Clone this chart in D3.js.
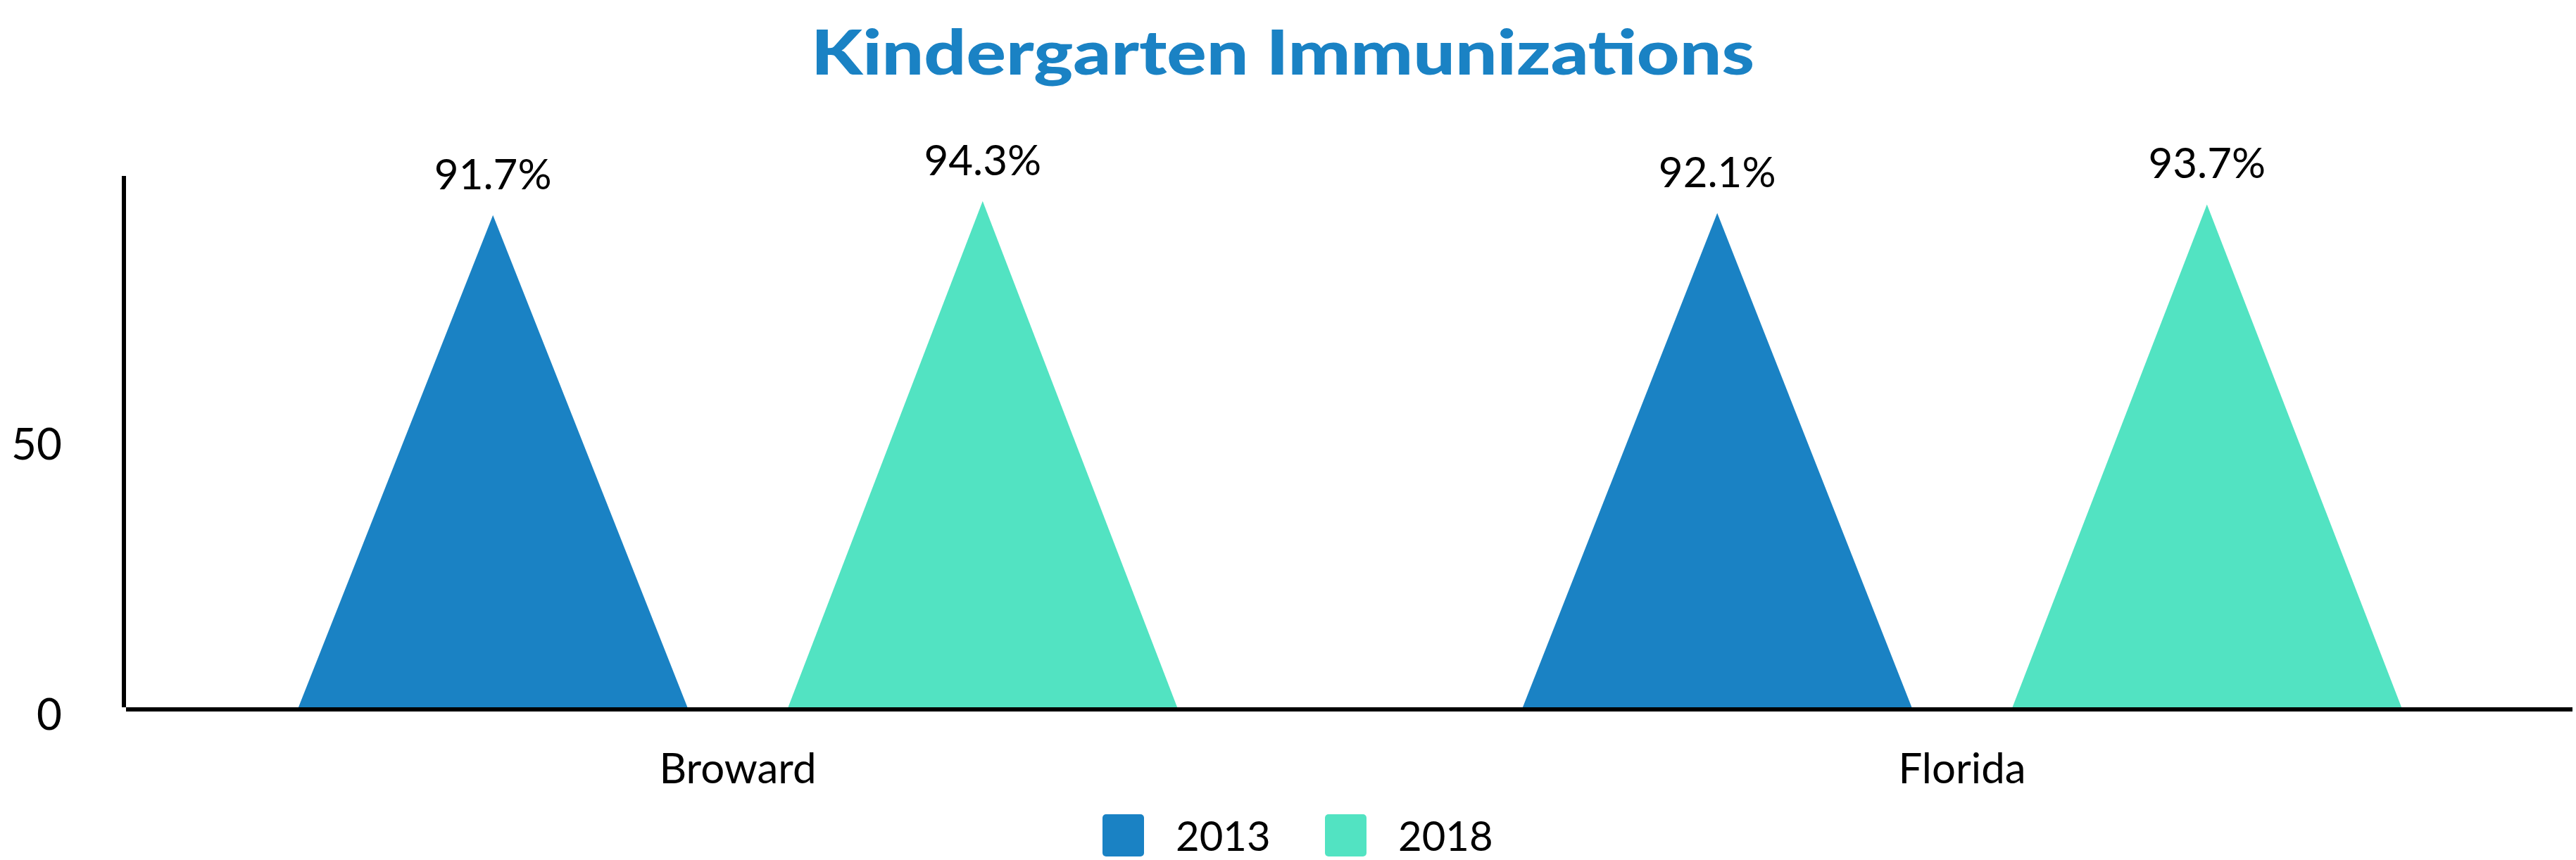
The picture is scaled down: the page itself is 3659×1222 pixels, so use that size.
<!DOCTYPE html>
<html>
<head>
<meta charset="utf-8">
<script src="https://cdn.jsdelivr.net/npm/d3@7"></script>
<style>
  html, body { margin: 0; padding: 0; background: #fff; }
  text { font-family: Lato, "Open Sans", sans-serif; }
</style>
</head>
<body>
<svg id="chart"></svg>
<script>
// chart data
const categories = ["Broward", "Florida"];
const seriesNames = ["2013", "2018"];
const values2013 = [91.7, 92.1];
const values2018 = [94.3, 93.7];
const yTicks = [0, 50];
const seriesColors = ["#1a82c4", "#52e3c2"];

const width = 3659, height = 1222;

const svg = d3.select("#chart")
    .attr("width", width)
    .attr("height", height);

// scales
const x = d3.scaleBand()
    .domain(categories)
    .range([178.5, 3656.5])
    .padding(0);

const xInner = d3.scaleBand()
    .domain(seriesNames)
    .range([0, x.bandwidth()])
    .paddingInner(0.2)
    .paddingOuter(0.35);

const y = d3.scaleLinear()
    .domain([0, 100])
    .range([1010, 242]);

const color = d3.scaleOrdinal().domain(seriesNames).range(seriesColors);

// flatten data for drawing
const rows = [];
categories.forEach((c, i) => {
    rows.push({ cat: c, series: "2013", value: values2013[i] });
    rows.push({ cat: c, series: "2018", value: values2018[i] });
});

// title
svg.append("text")
    .attr("x", 1822)
    .attr("y", 106)
    .attr("text-anchor", "middle")
    .attr("font-size", 88)
    .attr("font-weight", 900)
    .attr("fill", "#1a82c4")
    .attr("textLength", 1340)
    .attr("lengthAdjust", "spacingAndGlyphs")
    .text("Kindergarten Immunizations");

// triangles
svg.append("g").selectAll("path")
    .data(rows)
    .enter().append("path")
    .attr("fill", d => color(d.series))
    .attr("d", d => {
        const x0 = x(d.cat) + xInner(d.series);
        const x1 = x0 + xInner.bandwidth();
        const xm = (x0 + x1) / 2;
        return `M${x0},${y(0)}L${xm},${y(d.value)}L${x1},${y(0)}Z`;
    });

// value labels
svg.append("g").selectAll("text")
    .data(rows)
    .enter().append("text")
    .attr("x", d => x(d.cat) + xInner(d.series) + xInner.bandwidth() / 2)
    .attr("y", d => y(d.value) - 37)
    .attr("text-anchor", "middle")
    .attr("font-size", 60)
    .attr("fill", "#000")
    .text(d => d.value.toFixed(1) + "%");

// y axis (labels only, line drawn below)
const yAxis = svg.append("g")
    .attr("transform", "translate(176,0)")
    .call(d3.axisLeft(y).tickValues(yTicks).tickSize(0).tickPadding(88));
yAxis.select(".domain").remove();
yAxis.selectAll("text")
    .attr("font-family", "Lato, sans-serif")
    .attr("font-size", 62)
    .attr("fill", "#000")
    .attr("dy", "0.43em");

svg.append("line")
    .attr("x1", 176).attr("x2", 176)
    .attr("y1", 250).attr("y2", 1005)
    .attr("stroke", "#000")
    .attr("stroke-width", 6);

// x axis
const xAxis = svg.append("g")
    .attr("transform", "translate(0,1008)")
    .call(d3.axisBottom(x).tickSize(0).tickPadding(70));
xAxis.select(".domain")
    .attr("d", "M179,0H3654")
    .attr("stroke", "#000")
    .attr("stroke-width", 6);
xAxis.selectAll("text")
    .attr("font-family", "Lato, sans-serif")
    .attr("font-size", 60)
    .attr("fill", "#000")
    .attr("dy", "0")
    .attr("y", 105);

// legend
const legendX = [1566, 1882];
const legend = svg.append("g").selectAll("g")
    .data(seriesNames)
    .enter().append("g")
    .attr("transform", (d, i) => `translate(${legendX[i]},1157)`);

legend.append("rect")
    .attr("width", 59)
    .attr("height", 60)
    .attr("rx", 5)
    .attr("fill", d => color(d));

legend.append("text")
    .attr("x", 104)
    .attr("y", 52)
    .attr("font-size", 58)
    .attr("fill", "#000")
    .text(d => d);
</script>
</body>
</html>
